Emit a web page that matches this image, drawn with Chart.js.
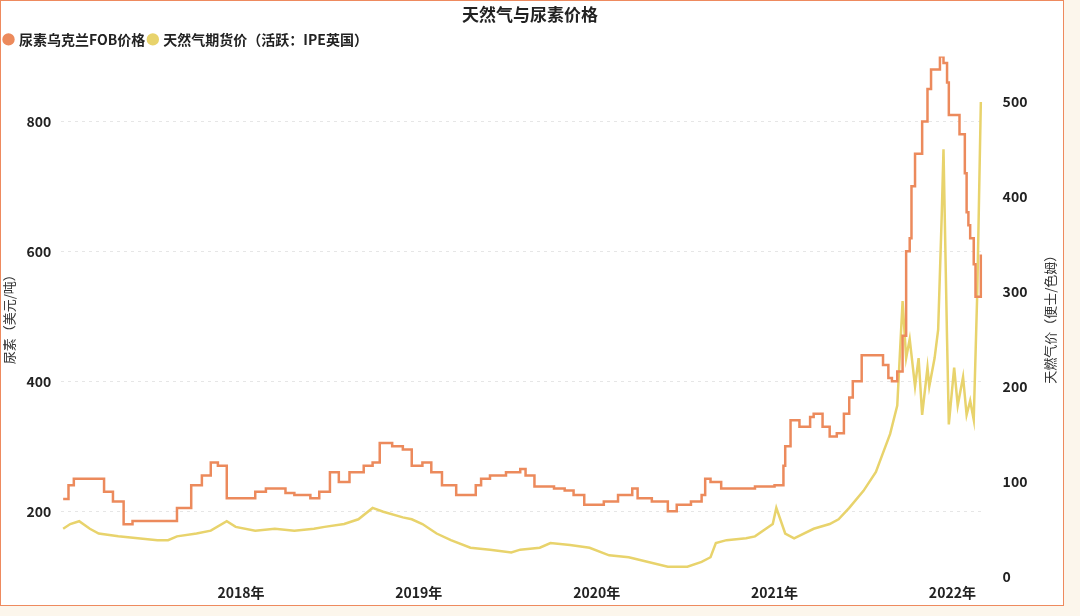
<!DOCTYPE html>
<html>
<head>
<meta charset="utf-8">
<script src="https://cdn.jsdelivr.net/npm/chart.js@4"></script>
<style>
  body { margin: 0; background: #fcf6ec; }
  #box { position: absolute; left: 0; top: 0; width: 1062px; height: 604px; background: #fff; border: 1.5px solid #ee8a5e; }
</style>
</head>
<body>
<div id="box"><canvas id="chart" width="1062" height="604"></canvas></div>
<script>
// 尿素乌克兰FOB价格 (美元/吨)
const ureaDates = [2017.00,2017.03,2017.06,2017.17,2017.23,2017.28,2017.34,2017.39,2017.61,2017.64,2017.72,2017.78,2017.83,2017.87,2017.92,
  2018.03,2018.08,2018.14,2018.25,2018.30,2018.39,2018.44,2018.50,2018.55,2018.61,2018.69,2018.74,2018.78,2018.85,2018.91,2018.96,
  2019.02,2019.07,2019.13,2019.21,2019.27,2019.32,2019.35,2019.40,2019.49,2019.57,2019.60,2019.65,2019.76,2019.82,2019.87,2019.93,2019.98,
  2020.04,2020.12,2020.20,2020.23,2020.31,2020.40,2020.45,2020.53,2020.59,2020.61,2020.64,2020.70,2020.89,
  2021.00,2021.05,2021.06,2021.09,2021.14,2021.20,2021.22,2021.27,2021.31,2021.35,2021.39,2021.42,2021.44,2021.49,2021.58,2021.61,2021.64,
  2021.66,2021.69,2021.72,2021.74,2021.76,2021.77,2021.79,2021.83,2021.86,2021.88,2021.91,2021.93,2021.95,2021.97,2021.98,
  2022.02,2022.04,2022.07,2022.08,2022.09,2022.10,2022.12,2022.13,2022.15,2022.16];
const ureaValues = [219,240,250,250,230,215,180,185,185,205,240,255,275,270,220,
  220,230,235,228,225,220,230,260,245,260,270,275,305,300,295,270,
  275,260,240,225,225,240,250,255,260,265,255,238,235,232,225,210,210,
  215,225,235,220,215,200,210,215,225,250,245,235,238,
  240,270,300,340,330,345,350,330,315,320,350,375,400,440,440,425,405,
  400,415,470,600,620,700,750,800,850,880,880,900,890,860,810,
  810,780,720,660,640,620,580,530,530,595];

// 天然气期货价 (活跃:IPE英国) (便士/色姆)
const gasDates = [2017.00,2017.04,2017.09,2017.15,2017.20,2017.31,2017.42,2017.53,2017.59,2017.64,2017.75,2017.83,2017.92,2017.97,
  2018.08,2018.19,2018.30,2018.41,2018.47,2018.58,2018.66,2018.74,2018.80,2018.91,2018.96,
  2019.02,2019.10,2019.18,2019.29,2019.40,2019.52,2019.57,2019.68,2019.74,2019.85,2019.96,
  2020.07,2020.18,2020.29,2020.40,2020.51,2020.59,2020.64,2020.67,2020.73,2020.84,2020.89,2020.99,
  2021.01,2021.06,2021.11,2021.22,2021.31,2021.36,2021.42,2021.50,2021.57,2021.61,2021.65,2021.69,2021.72,2021.74,2021.76,
  2021.79,2021.81,2021.83,2021.86,2021.87,2021.90,2021.92,2021.94,2021.95,2021.97,2021.98,
  2022.01,2022.03,2022.06,2022.08,2022.10,2022.12,2022.14,2022.15,2022.16];
const gasValues = [50,55,58,50,45,42,40,38,38,42,45,48,58,52,
  48,50,48,50,52,55,60,72,68,62,60,
  55,45,38,30,28,25,28,30,35,33,30,
  22,20,15,10,10,15,20,35,38,40,42,55,
  72,45,40,50,55,60,72,90,110,130,150,180,290,230,250,
  200,230,170,220,200,230,260,380,450,250,160,
  220,180,210,170,185,165,300,400,500];

const yearTicks = [2018, 2019, 2020, 2021, 2022];
const rightTitle = '天燃气价（便士/色姆）';

const pts = (xs, ys) => xs.map((x, i) => ({ x: x, y: ys[i] }));
const bold = { family: 'Noto Sans CJK SC', size: 14, weight: 'bold' };
const titleFont = { family: 'Noto Sans CJK SC', size: 13 };

// right-axis title reads bottom-to-top like the left one
const rightTitlePlugin = {
  id: 'rightTitle',
  afterDraw(chart) {
    const s = chart.scales.y1, c = chart.ctx;
    c.save();
    c.translate(s.right - 9, (s.top + s.bottom) / 2);
    c.rotate(-Math.PI / 2);
    c.font = '13px "Noto Sans CJK SC"';
    c.fillStyle = '#333';
    c.textAlign = 'center';
    c.textBaseline = 'middle';
    c.fillText(rightTitle, 0, 0);
    c.restore();
  }
};

new Chart(document.getElementById('chart'), {
  type: 'line',
  data: {
    datasets: [
      { label: '尿素乌克兰FOB价格', data: pts(ureaDates, ureaValues), yAxisID: 'y',
        borderColor: '#ec8a5c', backgroundColor: '#ec8a5c', borderWidth: 2.5, stepped: true, pointRadius: 0 },
      { label: '天然气期货价（活跃：IPE英国）', data: pts(gasDates, gasValues), yAxisID: 'y1',
        borderColor: '#e8d36c', backgroundColor: '#e8d36c', borderWidth: 2.5, pointRadius: 0, tension: 0 }
    ]
  },
  options: {
    responsive: false,
    animation: false,
    layout: { padding: { left: 0, right: 4, top: 0, bottom: 4 } },
    plugins: {
      title: { display: true, text: '天然气与尿素价格', color: '#222',
        font: { family: 'Noto Sans CJK SC', size: 17, weight: 'bold' }, padding: { top: 3, bottom: 4 } },
      legend: { align: 'start', labels: { usePointStyle: true, pointStyle: 'circle', boxWidth: 7, boxHeight: 7,
        color: '#222', font: bold, padding: 4 } },
      tooltip: { enabled: false }
    },
    scales: {
      x: { type: 'linear', min: 2016.99, max: 2022.17,
        afterBuildTicks: s => { s.ticks = yearTicks.map(v => ({ value: v })); },
        ticks: { callback: v => v + '年', color: '#222', font: bold, maxRotation: 0, padding: 0 },
        grid: { display: false }, border: { display: false } },
      y: { position: 'left', min: 100, max: 900,
        afterBuildTicks: s => { s.ticks = [200, 400, 600, 800].map(v => ({ value: v })); },
        ticks: { color: '#222', font: bold, padding: 10 },
        title: { display: true, text: '尿素（美元/吨）', color: '#333', font: titleFont, padding: 0 },
        grid: { color: '#e6e6e6', drawTicks: false }, border: { display: false, dash: [3, 4] } },
      y1: { position: 'right', min: 0, max: 548,
        afterBuildTicks: s => { s.ticks = [0, 100, 200, 300, 400, 500].map(v => ({ value: v })); },
        ticks: { color: '#222', font: bold, padding: 12 },
        title: { display: true, text: rightTitle, color: 'rgba(0,0,0,0)', font: titleFont, padding: 2 },
        grid: { display: false }, border: { display: false } }
    }
  },
  plugins: [rightTitlePlugin]
});
</script>
</body>
</html>
